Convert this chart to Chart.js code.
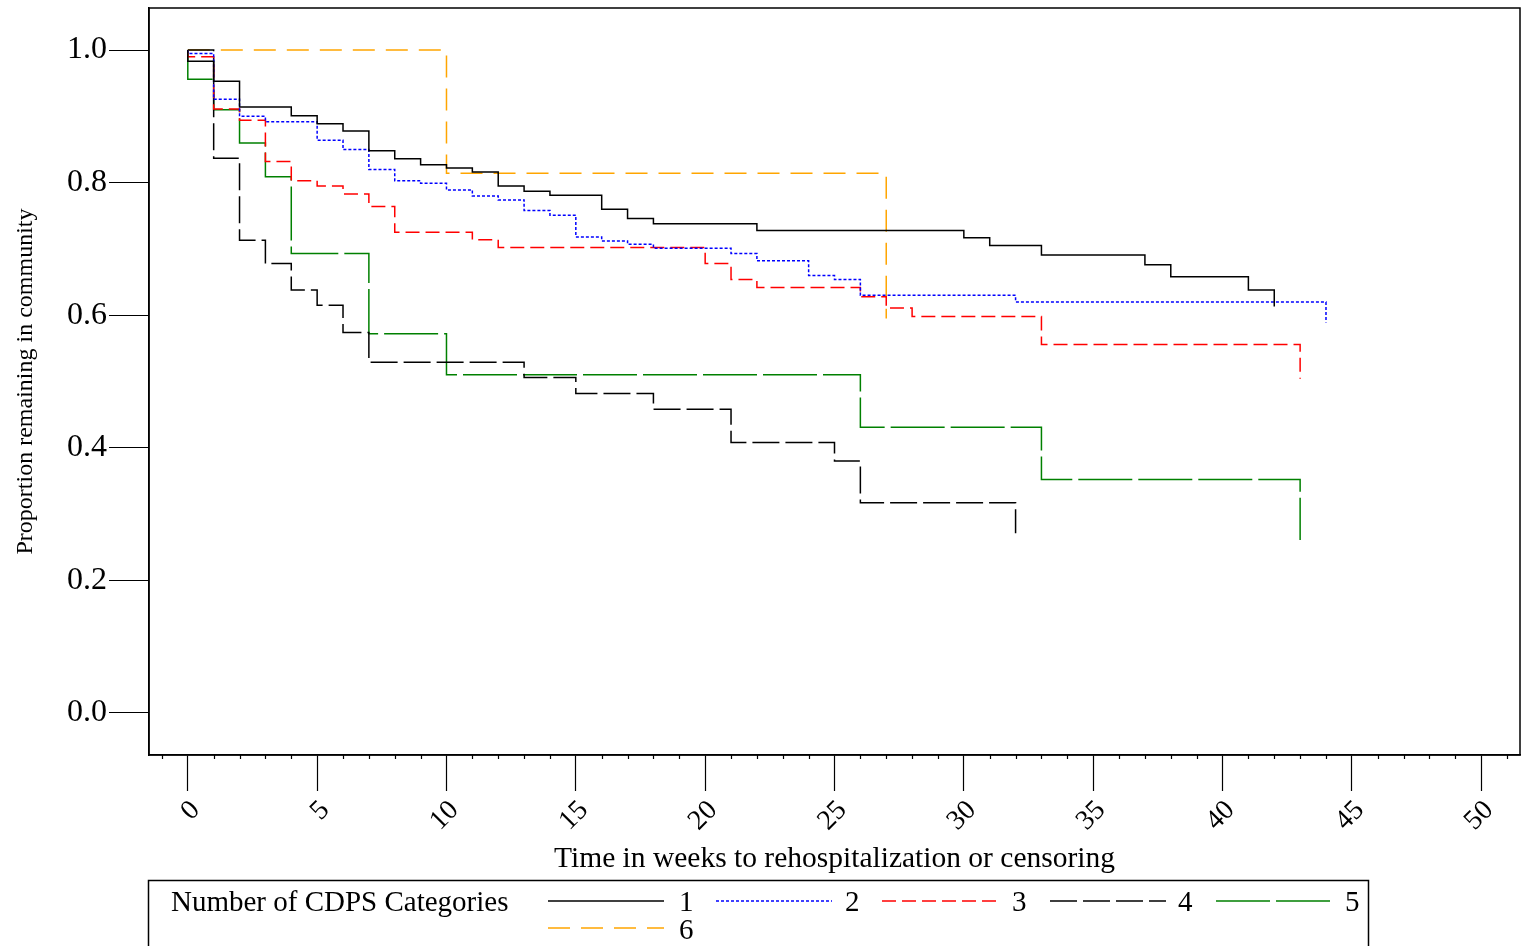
<!DOCTYPE html>
<html>
<head>
<meta charset="utf-8">
<script src="https://cdn.jsdelivr.net/npm/chart.js@4.4.1/dist/chart.umd.min.js"></script>
<style>
html,body{margin:0;padding:0;background:#fff;}
#wrap{width:1524px;height:946px;}
</style>
</head>
<body>
<div id="wrap"><canvas id="c" width="1524" height="946"></canvas></div>
<script>
// ---- data ----
const seriesLabels = ['1', '2', '3', '4', '5', '6'];

const weeks1 = [0, 0, 1, 2, 4, 5, 6, 7, 8, 9, 10, 11, 12, 13, 14, 16, 17, 18, 22, 30, 31, 33, 37, 38, 41, 42];
const surv1  = [1.0, 0.983, 0.953, 0.914, 0.901, 0.889, 0.878, 0.848, 0.836, 0.827, 0.822, 0.816, 0.795, 0.787, 0.781, 0.760, 0.746, 0.738, 0.728, 0.717, 0.705, 0.691, 0.676, 0.658, 0.638, 0.613];

const weeks2 = [0, 0, 1, 2, 3, 5, 6, 7, 8, 9, 10, 11, 12, 13, 14, 15, 16, 17, 18, 21, 22, 24, 25, 26, 32, 44];
const surv2  = [1.0, 0.995, 0.926, 0.900, 0.892, 0.864, 0.850, 0.820, 0.803, 0.799, 0.789, 0.780, 0.774, 0.758, 0.751, 0.718, 0.712, 0.707, 0.701, 0.693, 0.682, 0.660, 0.654, 0.630, 0.620, 0.589];

const weeks3 = [0, 0, 1, 2, 3, 4, 5, 6, 7, 8, 11, 12, 20, 21, 22, 26, 27, 28, 33, 43];
const surv3  = [1.0, 0.990, 0.911, 0.894, 0.832, 0.803, 0.795, 0.783, 0.764, 0.725, 0.714, 0.702, 0.678, 0.654, 0.642, 0.628, 0.611, 0.598, 0.556, 0.504];

const weeks4 = [0, 1, 2, 3, 4, 5, 6, 7, 13, 15, 18, 21, 25, 26, 32];
const surv4  = [1.0, 0.837, 0.713, 0.678, 0.638, 0.615, 0.574, 0.529, 0.506, 0.482, 0.458, 0.408, 0.380, 0.317, 0.271];

const weeks5 = [0, 0, 1, 2, 3, 4, 7, 10, 26, 33, 43];
const surv5  = [1.0, 0.956, 0.910, 0.860, 0.809, 0.693, 0.572, 0.510, 0.431, 0.352, 0.261];

const weeks6 = [0, 10, 27];
const surv6  = [1.0, 0.814, 0.595];

const xTickValues = [0, 5, 10, 15, 20, 25, 30, 35, 40, 45, 50];
const xMinorTickValues = [-1, 1, 2, 3, 4, 6, 7, 8, 9, 11, 12, 13, 14, 16, 17, 18, 19, 21, 22, 23, 24, 26, 27, 28, 29, 31, 32, 33, 34, 36, 37, 38, 39, 41, 42, 43, 44, 46, 47, 48, 49, 51];
const yTickValues = [0.0, 0.2, 0.4, 0.6, 0.8, 1.0];

const xTitle = 'Time in weeks to rehospitalization or censoring';
const yTitle = 'Proportion remaining in community';
const legendTitle = 'Number of CDPS Categories';

// ---- styles ----
const colors = ['#000000', '#0000FF', '#FF0000', '#000000', '#008000', '#FFA500'];
const dashes = [[], [3, 2], [14, 6], [27, 6], [54, 6], [22, 11]];
const SERIF = "'Liberation Serif', 'Times New Roman', serif";

function pts(w, s) { return w.map((x, i) => ({ x: x, y: s[i] })); }
const allWeeks = [weeks1, weeks2, weeks3, weeks4, weeks5, weeks6];
const allSurv = [surv1, surv2, surv3, surv4, surv5, surv6];

const datasets = seriesLabels.map((lab, i) => ({
  label: lab,
  data: pts(allWeeks[i], allSurv[i]),
  borderColor: colors[i],
  backgroundColor: colors[i],
  borderDash: dashes[i],
  borderWidth: 1.5,
  stepped: 'before',
  pointRadius: 0,
  fill: false,
  tension: 0
}));

const framePlugin = {
  id: 'frame',
  beforeDraw(chart) {
    const ctx = chart.ctx;
    ctx.save();
    ctx.fillStyle = '#fff';
    ctx.fillRect(0, 0, chart.width, chart.height);
    ctx.restore();
  },
  afterDraw(chart) {
    const ctx = chart.ctx;
    const a = chart.chartArea;
    const xs = chart.scales.x;
    ctx.save();
    ctx.strokeStyle = '#000';
    ctx.lineWidth = 1.5;
    ctx.setLineDash([]);
    ctx.strokeRect(a.left, a.top, a.right - a.left, a.bottom - a.top);
    // minor ticks
    ctx.lineWidth = 1.2;
    ctx.beginPath();
    xMinorTickValues.forEach(v => {
      const px = Math.round(xs.getPixelForValue(v)) + 0.5;
      ctx.moveTo(px, a.bottom);
      ctx.lineTo(px, a.bottom + 4);
    });
    ctx.stroke();

    // legend
    const L = { left: 148.5, top: 880.5, right: 1368.5 };
    ctx.lineWidth = 1.5;
    ctx.beginPath();
    ctx.moveTo(L.left, 960);
    ctx.lineTo(L.left, L.top);
    ctx.lineTo(L.right, L.top);
    ctx.lineTo(L.right, 960);
    ctx.stroke();
    ctx.fillStyle = '#000';
    ctx.font = '29px ' + SERIF;
    ctx.textBaseline = 'middle';
    ctx.textAlign = 'left';
    ctx.fillText(legendTitle, 171, 903);
    const slots = [
      { x: 548, y: 901, tx: 679, ty: 903 },
      { x: 716, y: 901, tx: 845, ty: 903 },
      { x: 882, y: 901, tx: 1012, ty: 903 },
      { x: 1050, y: 901, tx: 1178, ty: 903 },
      { x: 1216, y: 901, tx: 1345, ty: 903 },
      { x: 548, y: 928, tx: 679, ty: 931 }
    ];
    chart.data.datasets.forEach((ds, i) => {
      const s = slots[i];
      ctx.strokeStyle = ds.borderColor;
      ctx.lineWidth = 1.5;
      ctx.setLineDash(ds.borderDash);
      ctx.beginPath();
      ctx.moveTo(s.x, s.y);
      ctx.lineTo(s.x + 116, s.y);
      ctx.stroke();
      ctx.setLineDash([]);
      ctx.fillStyle = '#000';
      ctx.fillText(ds.label, s.tx, s.ty);
    });
    ctx.restore();
  }
};

new Chart(document.getElementById('c'), {
  type: 'line',
  data: { datasets: datasets },
  options: {
    responsive: false,
    animation: false,
    events: [],
    layout: { padding: { top: 8, right: 4, bottom: 71, left: 0 } },
    plugins: { legend: { display: false }, tooltip: { enabled: false } },
    scales: {
      x: {
        type: 'linear',
        min: -1.5,
        max: 51.5,
        afterBuildTicks: s => { s.ticks = xTickValues.map(v => ({ value: v })); },
        afterFit: s => { s.height = 120; s.paddingLeft = 0; s.paddingRight = 0; },
        grid: { drawOnChartArea: false, drawTicks: true, tickLength: 36, tickColor: '#000', tickWidth: 1.2 },
        border: { display: true, color: '#000', width: 1.5 },
        ticks: {
          color: '#000', autoSkip: false, minRotation: 45, maxRotation: 45, padding: 3,
          labelOffset: 8,
          font: { family: SERIF, size: 28 },
          callback: v => String(v)
        },
        title: {
          display: true, text: xTitle, color: '#000',
          font: { family: SERIF, size: 29.5 },
          padding: { top: 0, bottom: -2 }
        }
      },
      y: {
        type: 'linear',
        min: -0.0635,
        max: 1.0635,
        afterBuildTicks: s => { s.ticks = yTickValues.map(v => ({ value: v })); },
        afterFit: s => { s.width = 149; s.paddingTop = 0; s.paddingBottom = 0; },
        grid: { drawOnChartArea: false, drawTicks: true, tickLength: 40, tickColor: '#000', tickWidth: 1.2 },
        border: { display: true, color: '#000', width: 1.5 },
        ticks: {
          color: '#000', padding: 2,
          font: { family: SERIF, size: 32 },
          callback: v => Number(v).toFixed(1)
        },
        title: {
          display: true, text: yTitle, color: '#000',
          font: { family: SERIF, size: 24 },
          padding: { top: 11, bottom: 0 }
        }
      }
    }
  },
  plugins: [framePlugin]
});
</script>
</body>
</html>
